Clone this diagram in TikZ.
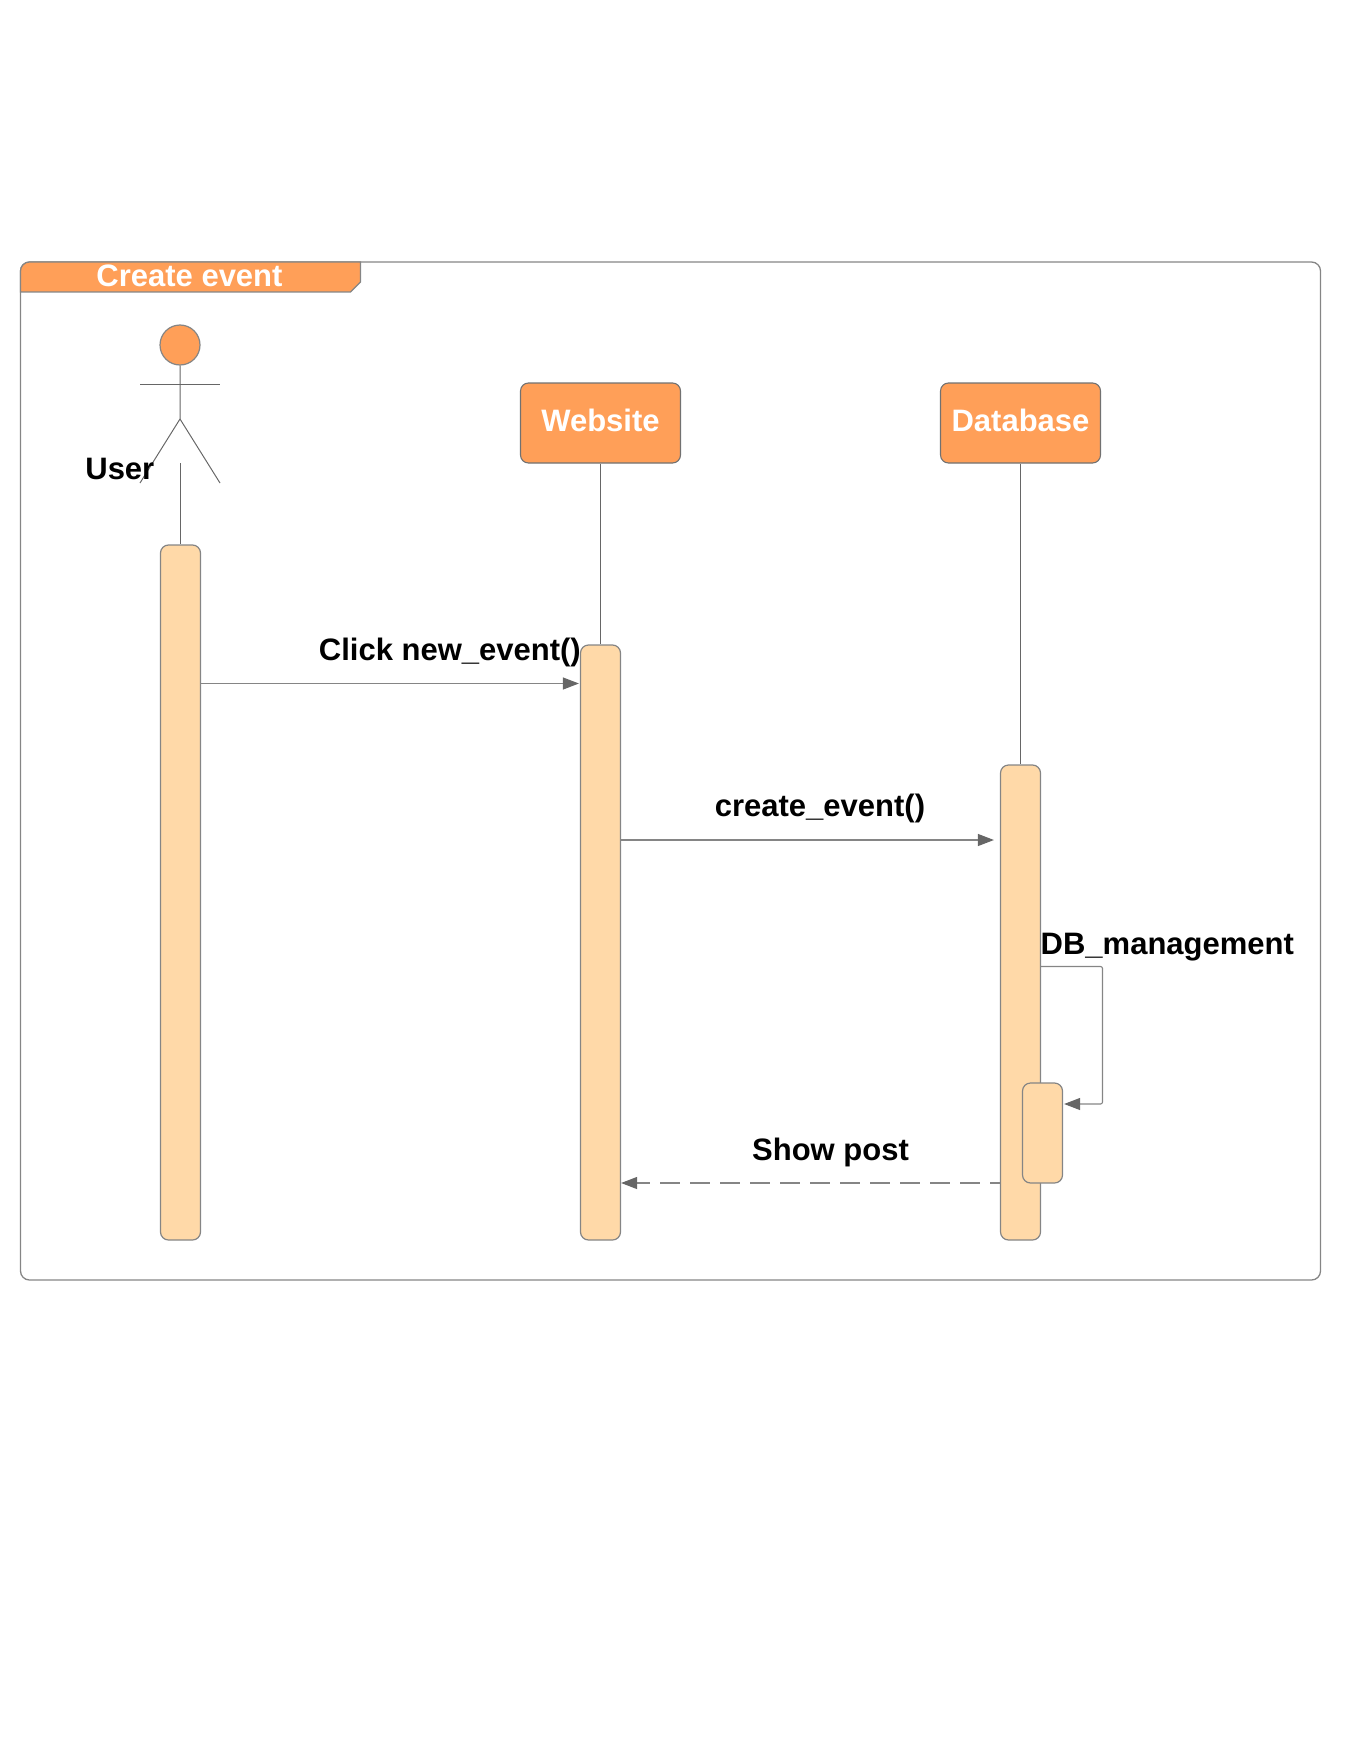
\documentclass[tikz,border=0pt]{standalone}
\usepackage{fontspec}
\setmainfont{Liberation Sans}
\usepackage{xcolor}
\usetikzlibrary{arrows.meta, positioning, calc}
\definecolor{seqorange}{HTML}{FF9F58}
\definecolor{seqpeach}{HTML}{FFD9A8}
\definecolor{seqline}{HTML}{858585}
\definecolor{seqtip}{HTML}{666666}
\tikzset{
  seqlabel/.style={font=\fontsize{31}{36}\selectfont\bfseries, inner sep=0pt},
  headbox/.style={draw=seqline!85!black, fill=seqorange, rounded corners=8pt, line width=1.1pt,
    minimum width=160pt, minimum height=80pt, inner sep=0pt,
    text=white, font=\fontsize{31}{36}\selectfont\bfseries},
  activation/.style={draw=seqline, fill=seqpeach, rounded corners=8pt, line width=1.2pt,
    minimum width=40pt, inner sep=0pt},
  lifeline/.style={draw=seqtip, line width=1pt},
  message/.style={draw=seqline, line width=1.1pt, -{Triangle[length=16pt,width=12pt,color=seqtip]}}
}

\begin{document}
\begin{tikzpicture}[x=1pt, y=-1pt]
  \useasboundingbox (0,0) rectangle (1360,1760);
  % the frame and its tab
  \node[draw=seqline, rounded corners=9pt, line width=1.3pt, minimum width=1300pt,
        minimum height=1018pt, inner sep=0pt] (frame) at (670.5,771) {};
  \draw[draw=seqline, fill=seqorange, line width=1.2pt]
    (20.5,292) [rounded corners=9pt] -- (20.5,262) [sharp corners] -- (360.5,262) -- (360.5,282) -- (350.5,292) -- cycle;
  \node[text=white, font=\fontsize{31}{36}\selectfont\bfseries, inner sep=0pt] (title) at (189.5,276) {Create event};
  % the actor
  \node[circle, draw=seqline, fill=seqorange, line width=1.2pt, minimum size=40pt, inner sep=0pt] (userhead) at (180,345) {};
  \coordinate (hip) at (180,419);
  \draw[lifeline] (userhead.south) -- (hip) -- (140,483);
  \draw[lifeline] (hip) -- (220,483);
  \draw[lifeline] (140,384.5) -- (220,384.5);
  \node[seqlabel, anchor=east] (userlabel) at (154.5,469) {User};
  % the heads
  \node[headbox] (website) at (600.5,423) {};
  \node[headbox] (database) at (1020.5,423) {};
  \node[text=white, font=\fontsize{31}{36}\selectfont\bfseries, inner sep=0pt] (websitelabel) at (600.5,420) {Website};
  \node[text=white, font=\fontsize{31}{36}\selectfont\bfseries, inner sep=0pt] (databaselabel) at (1020.5,420) {Database};
  % the activations
  \node[activation, minimum height=695pt] (useract) at (180.5,892.5) {};
  \node[activation, minimum height=595pt] (webact) at (600.5,942.5) {};
  \node[activation, minimum height=475pt] (dbact) at (1020.5,1002.5) {};
  \node[activation, minimum height=100pt] (nestact) at (1042.5,1133) {};
  % the lifelines
  \coordinate (usertop) at (0,463);
  \draw[lifeline] (useract.north |- usertop) -- (useract.north);
  \draw[lifeline] (website.south) -- (webact.north);
  \draw[lifeline] (database.south) -- (dbact.north);
  % the messages
  \coordinate (clickrow) at (0,683.5);
  \coordinate (createrow) at (0,840);
  \coordinate (looptop) at (1102.5,966.5);
  \coordinate (loopend) at (1102.5,1104);
  \coordinate (showrow) at (0,1183);
  \draw[message, shorten >=1pt] (useract.east |- clickrow) -- (webact.west |- clickrow);
  \draw[message, shorten >=6pt] (webact.east |- createrow) -- (dbact.west |- createrow);
  \draw[draw=seqline, line width=1.1pt, dash pattern=on 20pt off 10pt, dash phase=10pt, -{Triangle[length=16pt,width=12pt,color=seqtip]}]
    (dbact.west |- showrow) -- (webact.east |- showrow);
  \draw[message, rounded corners=2pt, shorten >=1pt]
    (dbact.east |- looptop) -- (looptop) -- (loopend) -- (nestact.east |- loopend);
  \node[seqlabel, anchor=east] (clicklabel) at (581,652) {Click new\_event()};
  \node[seqlabel] (createlabel) at (820,808.5) {create\_event()};
  \node[seqlabel, anchor=west] (managelabel) at (1040.5,947) {DB\_management};
  \node[seqlabel] (showlabel) at (830.5,1152) {Show post};
\end{tikzpicture}
\end{document}
